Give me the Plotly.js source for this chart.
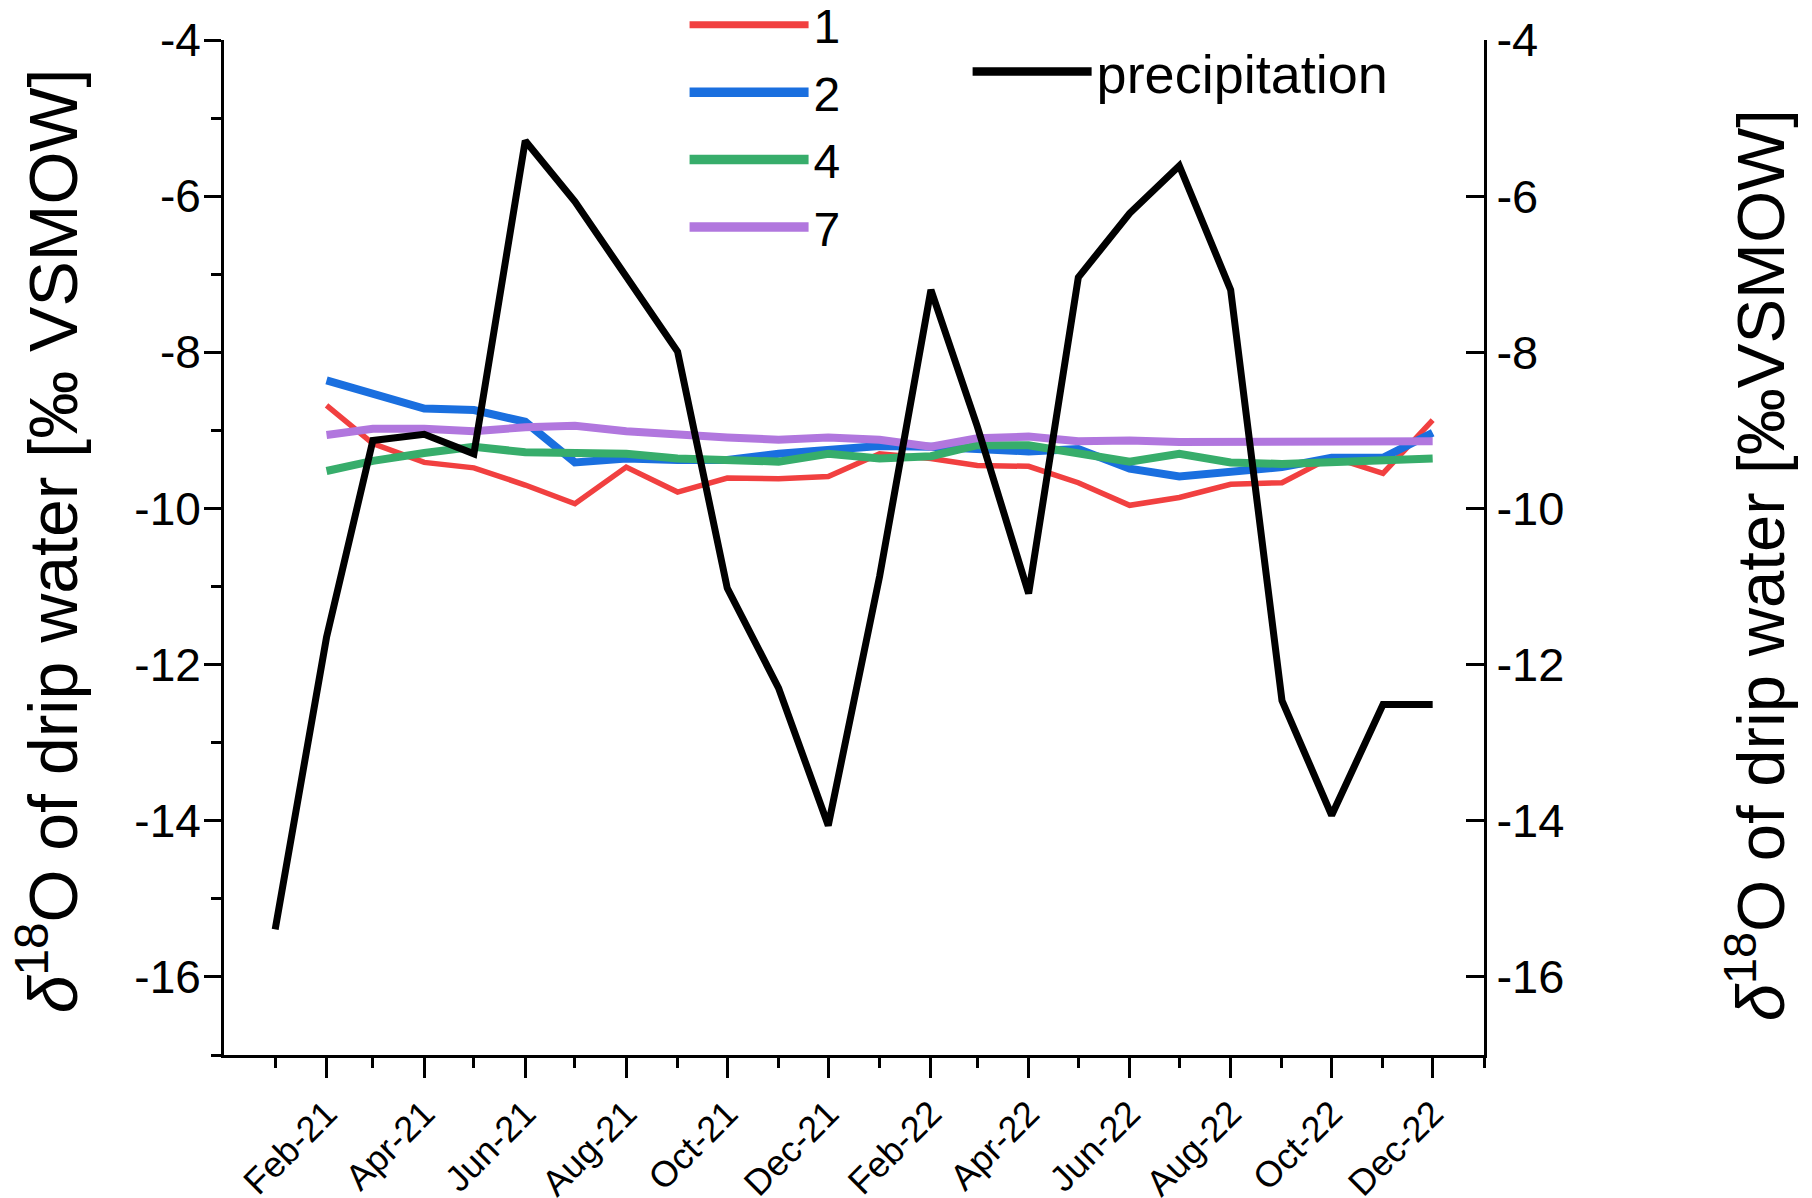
<!DOCTYPE html>
<html>
<head>
<meta charset="utf-8">
<script src="https://cdn.plot.ly/plotly-3.0.1.min.js"></script>
<style>html,body{margin:0;padding:0;background:#fff;}#chart{width:1812px;height:1198px;}</style>
</head>
<body>
<div id="chart"></div>
<script>
// Months (first of month)
const precipMonths = ['2021-01-01','2021-02-01','2021-03-01','2021-04-01','2021-05-01','2021-06-01','2021-07-01','2021-08-01','2021-09-01','2021-10-01','2021-11-01','2021-12-01',
                      '2022-01-01','2022-02-01','2022-03-01','2022-04-01','2022-05-01','2022-06-01','2022-07-01','2022-08-01','2022-09-01','2022-10-01','2022-11-01','2022-12-01'];
const dripMonths = precipMonths.slice(1);

// δ18O of precipitation
const precipitation = [-15.39, -11.65, -9.13, -9.05, -9.30, -5.29, -6.07, -7.03, -7.99, -11.02, -12.30, -14.06,
                       -10.87, -7.20, -8.95, -11.09, -7.04, -6.22, -5.61, -7.20, -12.46, -13.93, -12.51, -12.51];

// δ18O of drip water, sites 1, 2, 4, 7 (Feb-21 .. Dec-22)
const site1 = [-8.68, -9.17, -9.41, -9.48, -9.70, -9.94, -9.47, -9.79, -9.61, -9.62, -9.59,
               -9.30, -9.36, -9.45, -9.46, -9.67, -9.96, -9.86, -9.69, -9.67, -9.34, -9.55, -8.87];
const site2 = [-8.36, -8.53, -8.72, -8.74, -8.89, -9.41, -9.36, -9.38, -9.38, -9.30, -9.25,
               -9.20, -9.21, -9.24, -9.27, -9.24, -9.49, -9.59, -9.52, -9.47, -9.35, -9.35, -9.03];
const site4 = [-9.52, -9.39, -9.29, -9.21, -9.28, -9.29, -9.30, -9.36, -9.39, -9.40, -9.30,
               -9.36, -9.33, -9.19, -9.19, -9.30, -9.40, -9.30, -9.41, -9.43, -9.41, -9.40, -9.36];
const site7 = [-9.06, -8.98, -8.98, -9.01, -8.96, -8.94, -9.01, -9.06, -9.09, -9.12, -9.09,
               -9.12, -9.21, -9.10, -9.08, -9.14, -9.13, -9.15, -9.15, -9.15, -9.16, -9.15, -9.14];

const siteNames = ['1', '2', '4', '7'];
const precipName = 'precipitation';
const yTickVals = [-16, -14, -12, -10, -8, -6, -4];
const yTickText = ['-16', '-14', '-12', '-10', '-8', '-6', '-4'];
const leftTitle = '<i>δ</i><sup>18</sup>O of drip water [‰ VSMOW]';
const rightTitle = '<i>δ</i><sup>18</sup>O of drip water [‰VSMOW]';

const FONT = 'Liberation Sans, Arial, sans-serif';
const colors = ['#F14040', '#1A6FDF', '#37AD6B', '#B177DE'];
const widths = [5.5, 8, 8, 8];
const legendWidths = [7, 9.5, 9.5, 9.5];
const siteData = [site1, site2, site4, site7];

const traces = siteData.map((d, i) => ({
  type: 'scatter', mode: 'lines', x: dripMonths, y: d, name: siteNames[i],
  line: {color: colors[i], width: widths[i]}, showlegend: false, yaxis: 'y'
}));
traces.push({
  type: 'scatter', mode: 'lines', x: precipMonths, y: precipitation, name: precipName,
  line: {color: '#000000', width: 7}, showlegend: false, yaxis: 'y2'
});
// legend entries (thicker key lines, as in the original figure)
siteNames.forEach((n, i) => traces.push({
  type: 'scatter', mode: 'lines', x: [null], y: [null], name: n, legendgroup: 'g' + i,
  line: {color: colors[i], width: legendWidths[i]}, legend: 'legend', showlegend: true, hoverinfo: 'skip'
}));
traces.push({
  type: 'scatter', mode: 'lines', x: [null], y: [null], name: precipName,
  line: {color: '#000000', width: 8.5}, legend: 'legend2', showlegend: true, hoverinfo: 'skip'
});

const layout = {
  width: 1812, height: 1198,
  margin: {l: 224, r: 328, t: 40, b: 143, autoexpand: false},
  paper_bgcolor: '#ffffff', plot_bgcolor: '#ffffff',
  font: {family: FONT, color: '#000'},
  showlegend: true,
  xaxis: {
    type: 'date',
    range: ['2020-12-01 02:00', '2023-01-01'],
    showgrid: false, zeroline: false,
    showline: true, linecolor: '#000', linewidth: 3,
    ticks: 'outside', ticklen: 20, tickwidth: 3, tickcolor: '#000',
    dtick: 'M2', tick0: '2021-02-01', tickformat: '%b-%y',
    tickangle: -45,
    tickfont: {family: FONT, size: 36, color: '#000'},
    minor: {dtick: 'M1', tick0: '2021-01-01', ticks: 'outside', ticklen: 10, tickwidth: 3, tickcolor: '#000', showgrid: false}
  },
  yaxis: {
    range: [-17, -4],
    showgrid: false, zeroline: false,
    showline: true, linecolor: '#000', linewidth: 3,
    ticks: 'outside', ticklen: 17, tickwidth: 3, tickcolor: '#000',
    tickvals: yTickVals, ticktext: yTickText,
    tickfont: {family: FONT, size: 46, color: '#000'},
    ticklabelstandoff: -6,
    minor: {dtick: 1, tick0: -17, ticks: 'outside', ticklen: 10, tickwidth: 3, tickcolor: '#000', showgrid: false}
  },
  yaxis2: {
    range: [-17, -4], overlaying: 'y', side: 'right',
    showgrid: false, zeroline: false,
    showline: true, linecolor: '#000', linewidth: 3,
    ticks: 'inside', ticklen: 18, tickwidth: 3, tickcolor: '#000',
    tickvals: yTickVals, ticktext: yTickText,
    tickfont: {family: FONT, size: 47, color: '#000'}
  },
  annotations: [
    {text: leftTitle, xref: 'paper', yref: 'paper', x: -0.139, y: 0.507, xanchor: 'center', yanchor: 'middle',
     textangle: -90, showarrow: false, font: {family: FONT, size: 68, color: '#000'}},
    {text: rightTitle, xref: 'paper', yref: 'paper', x: 1.2155, y: 0.482, xanchor: 'center', yanchor: 'middle',
     textangle: -90, showarrow: false, font: {family: FONT, size: 67, color: '#000'}}
  ],
  legend: {
    xref: 'container', yref: 'container',
    x: 0.3778, xanchor: 'left', y: 0.8948, yanchor: 'middle',
    bgcolor: 'rgba(0,0,0,0)', borderwidth: 0,
    font: {family: FONT, size: 48, color: '#000'},
    itemwidth: 119, tracegroupgap: 2, traceorder: 'grouped'
  },
  legend2: {
    xref: 'container', yref: 'container',
    x: 0.534, xanchor: 'left', y: 0.94, yanchor: 'middle',
    bgcolor: 'rgba(0,0,0,0)', borderwidth: 0,
    font: {family: FONT, size: 54, color: '#000'},
    itemwidth: 119
  }
};

Plotly.newPlot('chart', traces, layout, {staticPlot: true, displayModeBar: false});
</script>
</body>
</html>
